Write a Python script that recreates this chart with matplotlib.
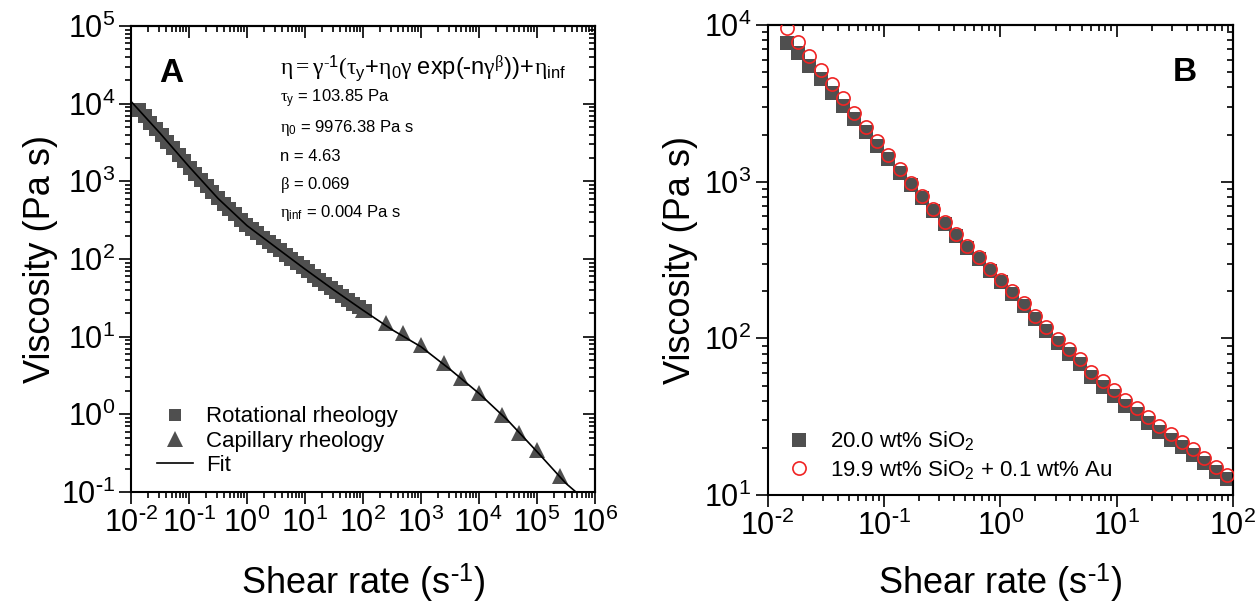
import numpy as np
import matplotlib
matplotlib.use('Agg')
import matplotlib.pyplot as plt
from matplotlib.ticker import LogLocator, NullFormatter, FuncFormatter
from matplotlib.lines import Line2D

plt.rcParams['font.family'] = 'Liberation Sans'
plt.rcParams['mathtext.fontset'] = 'custom'
plt.rcParams['mathtext.rm'] = 'Liberation Serif'
plt.rcParams['mathtext.it'] = 'Liberation Serif:italic'
plt.rcParams['mathtext.sf'] = 'Liberation Sans'
plt.rcParams['mathtext.bf'] = 'Liberation Sans:bold'

# Panel A - rotational rheometer sweep (s^-1, Pa s)
rot_rate = [0.0138, 0.0173, 0.0216, 0.0270, 0.0338, 0.0423, 0.0528, 0.0661, 0.0828,
            0.1035, 0.1294, 0.1618, 0.2023, 0.2535, 0.3170, 0.3963, 0.4955, 0.6194,
            0.7762, 0.9705, 1.213, 1.517, 1.897, 2.377, 2.972, 3.715, 4.645, 5.808,
            7.278, 9.099, 11.38, 14.22, 17.78, 22.28, 27.86, 34.83, 43.55, 54.45,
            68.23, 85.31, 106.7]
rot_visc = [8220, 6855, 5705, 4750, 3940, 3250, 2680, 2213, 1824, 1506, 1253, 1044,
            869, 722, 601, 514, 440, 376, 321, 275, 242, 213, 188, 166, 146, 129, 114,
            100, 88.6, 78.1, 69.2, 61.2, 54.3, 48.1, 42.7, 37.8, 33.7, 30.0, 26.7,
            23.8, 21.1]

# capillary rheometer points
cap_rate = [100, 250, 500, 1000, 2500, 5000, 1e4, 2.5e4, 5e4, 1e5, 2.5e5]
cap_visc = [22.2, 14.9, 11.3, 7.8, 4.55, 2.96, 1.87, 0.98, 0.58, 0.346, 0.16]

# fitted curve
fit_rate = [0.01, 0.0316, 0.1, 0.316, 1, 3.16, 10, 31.6, 100, 316, 1000, 3160,
            1e4, 3.16e4, 1e5, 3.16e5, 5.62e5]
fit_visc = [10700, 4170, 1550, 603, 269, 141, 74.1, 39.8, 21.9, 12.3, 7.41, 3.80,
            1.86, 0.832, 0.331, 0.129, 0.0891]

# fit parameters
fit_params = ['103.85', '9976.38', '4.63', '0.069', '0.004']

# Panel B - with and without gold
b_rate = [0.01462, 0.01828, 0.02286, 0.02858, 0.03573, 0.04467, 0.05585, 0.06982,
          0.0873, 0.1091, 0.1365, 0.1706, 0.2133, 0.2667, 0.3334, 0.4169, 0.5212,
          0.6516, 0.8147, 1.019, 1.274, 1.592, 1.991, 2.489, 3.112, 3.89, 4.864,
          6.081, 7.603, 9.506, 11.89, 14.86, 18.58, 23.23, 29.04, 36.31, 45.39,
          56.75, 70.96, 88.72]
visc_sio2 = [7720, 6650, 5470, 4505, 3690, 3040, 2500, 2065, 1698, 1390, 1143, 953,
             787, 647, 540, 450, 378, 320, 269, 228, 193, 160, 132, 111, 92.9, 79.4,
             68.4, 56.6, 49.1, 43.0, 37.2, 32.8, 29.0, 25.3, 22.5, 20.2, 18.1, 16.1,
             14.1, 12.6]
visc_sio2_au = [9525, 7820, 6335, 5160, 4200, 3403, 2730, 2223, 1826, 1481, 1200, 986,
                811, 667, 556, 464, 389, 330, 278, 236, 202, 167, 139, 118, 98.7, 84.9,
                73.6, 61.4, 53.5, 46.9, 40.5, 35.9, 31.7, 27.6, 24.5, 21.9, 19.6, 17.3,
                15.2, 13.4]

GRAY = '#4f4f4f'
RED = '#f02424'


def pow10(v, pos):
    e = int(round(np.log10(v)))
    if e < 0:
        return r'$\mathregular{10^{\text{-}%d}}$' % -e
    return r'$\mathregular{10^{%d}}$' % e


def log_locators(axis, labels=True):
    axis.set_major_locator(LogLocator(base=10, numticks=20))
    axis.set_minor_locator(LogLocator(base=10, subs=np.arange(2, 10), numticks=20))
    axis.set_minor_formatter(NullFormatter())
    if labels:
        axis.set_major_formatter(FuncFormatter(pow10))


def style_axes(ax, xlim, ylim):
    ax.set_xscale('log')
    ax.set_yscale('log')
    ax.set_xlim(*xlim)
    ax.set_ylim(*ylim)
    log_locators(ax.xaxis)
    log_locators(ax.yaxis)
    for sp in ax.spines.values():
        sp.set_linewidth(1.5)
    ax.tick_params(which='both', direction='out', top=False, right=False,
                   labelsize=22, width=1.2, pad=3)
    ax.tick_params(which='major', length=8.5)
    ax.tick_params(which='minor', length=4.5)

    # mirrored ticks on top/right point inwards
    top = ax.secondary_xaxis('top')
    right = ax.secondary_yaxis('right')
    log_locators(top.xaxis, labels=False)
    log_locators(right.yaxis, labels=False)
    top.tick_params(which='both', direction='in', labeltop=False, width=1.2)
    right.tick_params(which='both', direction='in', labelright=False, width=1.2)
    for sec in (top, right):
        sec.tick_params(which='major', length=8.5)
        sec.tick_params(which='minor', length=4.5)
        for sp in sec.spines.values():
            sp.set_linewidth(1.5)

    ax.set_xlabel(r'Shear rate (s$^{\text{-}\mathregular{1}}$)', fontsize=26)
    ax.set_ylabel('Viscosity (Pa s)', fontsize=26)


fig = plt.figure(figsize=(12.57, 6.07), dpi=100)
axA = fig.add_axes([0.1042, 0.1895, 0.3691, 0.7677])
axB = fig.add_axes([0.6106, 0.1845, 0.3703, 0.7743])

# ---- A ----
style_axes(axA, (1e-2, 1e6), (1e-1, 1e5))
axA.plot(rot_rate, rot_visc, 's', color=GRAY, ms=10.5, mew=0, zorder=2)
axA.plot(cap_rate, cap_visc, '^', color=GRAY, ms=11, mew=0, zorder=2)
axA.plot(fit_rate, fit_visc, '-', color='black', lw=1.2, zorder=3)
axA.xaxis.set_label_coords(0.5, -0.195)
axA.yaxis.set_label_coords(-0.196, 0.5)
axA.xaxis.label.set_va('center')
axA.yaxis.label.set_va('center')

axA.text(0.0862, 0.899, 'A', transform=axA.transAxes, fontsize=24,
         fontweight='bold', ha='center', va='center')
eq = (r'$\mathrm{\eta} = \mathrm{\gamma}^{\text{-}\mathsf{1}}\mathrm{(\tau}_{\mathsf{y}}'
      r'\mathsf{+}\mathrm{\eta}_{\mathsf{0}}\mathrm{\gamma}\ \mathsf{exp(\text{-}n}'
      r'\mathrm{\gamma}^{\mathrm{\beta}}\mathsf{))\!+\!}\mathrm{\eta}_{\mathsf{inf}}$')
axA.text(0.321, 0.895, eq, transform=axA.transAxes, fontsize=17, va='baseline')
param_lines = [r'$\mathrm{\tau}_{\mathsf{y}}$ = ' + fit_params[0] + ' Pa',
               r'$\mathrm{\eta}_{\mathsf{0}}$ = ' + fit_params[1] + ' Pa s',
               'n = ' + fit_params[2],
               r'$\mathrm{\beta}$ = ' + fit_params[3],
               r'$\mathrm{\eta}_{\mathsf{inf}}$ = ' + fit_params[4] + ' Pa s']
for yy, s in zip([0.835, 0.773, 0.710, 0.650, 0.590], param_lines):
    axA.text(0.321, yy, s, transform=axA.transAxes, fontsize=12, va='baseline')

handlesA = [Line2D([], [], ls='none', marker='s', color=GRAY, ms=9, mew=0),
            Line2D([], [], ls='none', marker='^', color=GRAY, ms=11, mew=0),
            Line2D([], [], color='black', lw=1.2)]
axA.legend(handlesA, ['Rotational rheology', 'Capillary rheology', 'Fit'],
           loc='lower left', bbox_to_anchor=(0.056, 0.034), frameon=False,
           fontsize=16, handlelength=1.6, handletextpad=0.6, labelspacing=0.15,
           borderpad=0, borderaxespad=0)

# ---- B ----
style_axes(axB, (1e-2, 1e2), (1e1, 1e4))
axB.plot(b_rate, visc_sio2, 's', color=GRAY, ms=9.5, mew=0, zorder=2,
         label=r'20.0 wt% SiO$_{\mathregular{2}}$')
axB.plot(b_rate, visc_sio2_au, 'o', mfc='none', mec=RED, ms=9.5, mew=1.2, zorder=3,
         label=r'19.9 wt% SiO$_{\mathregular{2}}$ + 0.1 wt% Au')
axB.xaxis.set_label_coords(0.5, -0.187)
axB.yaxis.set_label_coords(-0.188, 0.5)
axB.xaxis.label.set_va('center')
axB.yaxis.label.set_va('center')
axB.text(0.897, 0.898, 'B', transform=axB.transAxes, fontsize=24,
         fontweight='bold', ha='center', va='center')
axB.legend(loc='lower left', bbox_to_anchor=(0.03, 0.03), frameon=False,
           fontsize=16, handlelength=1.6, handletextpad=0.6, labelspacing=0.25,
           borderpad=0, borderaxespad=0)

fig.savefig('out.png', dpi=100)
